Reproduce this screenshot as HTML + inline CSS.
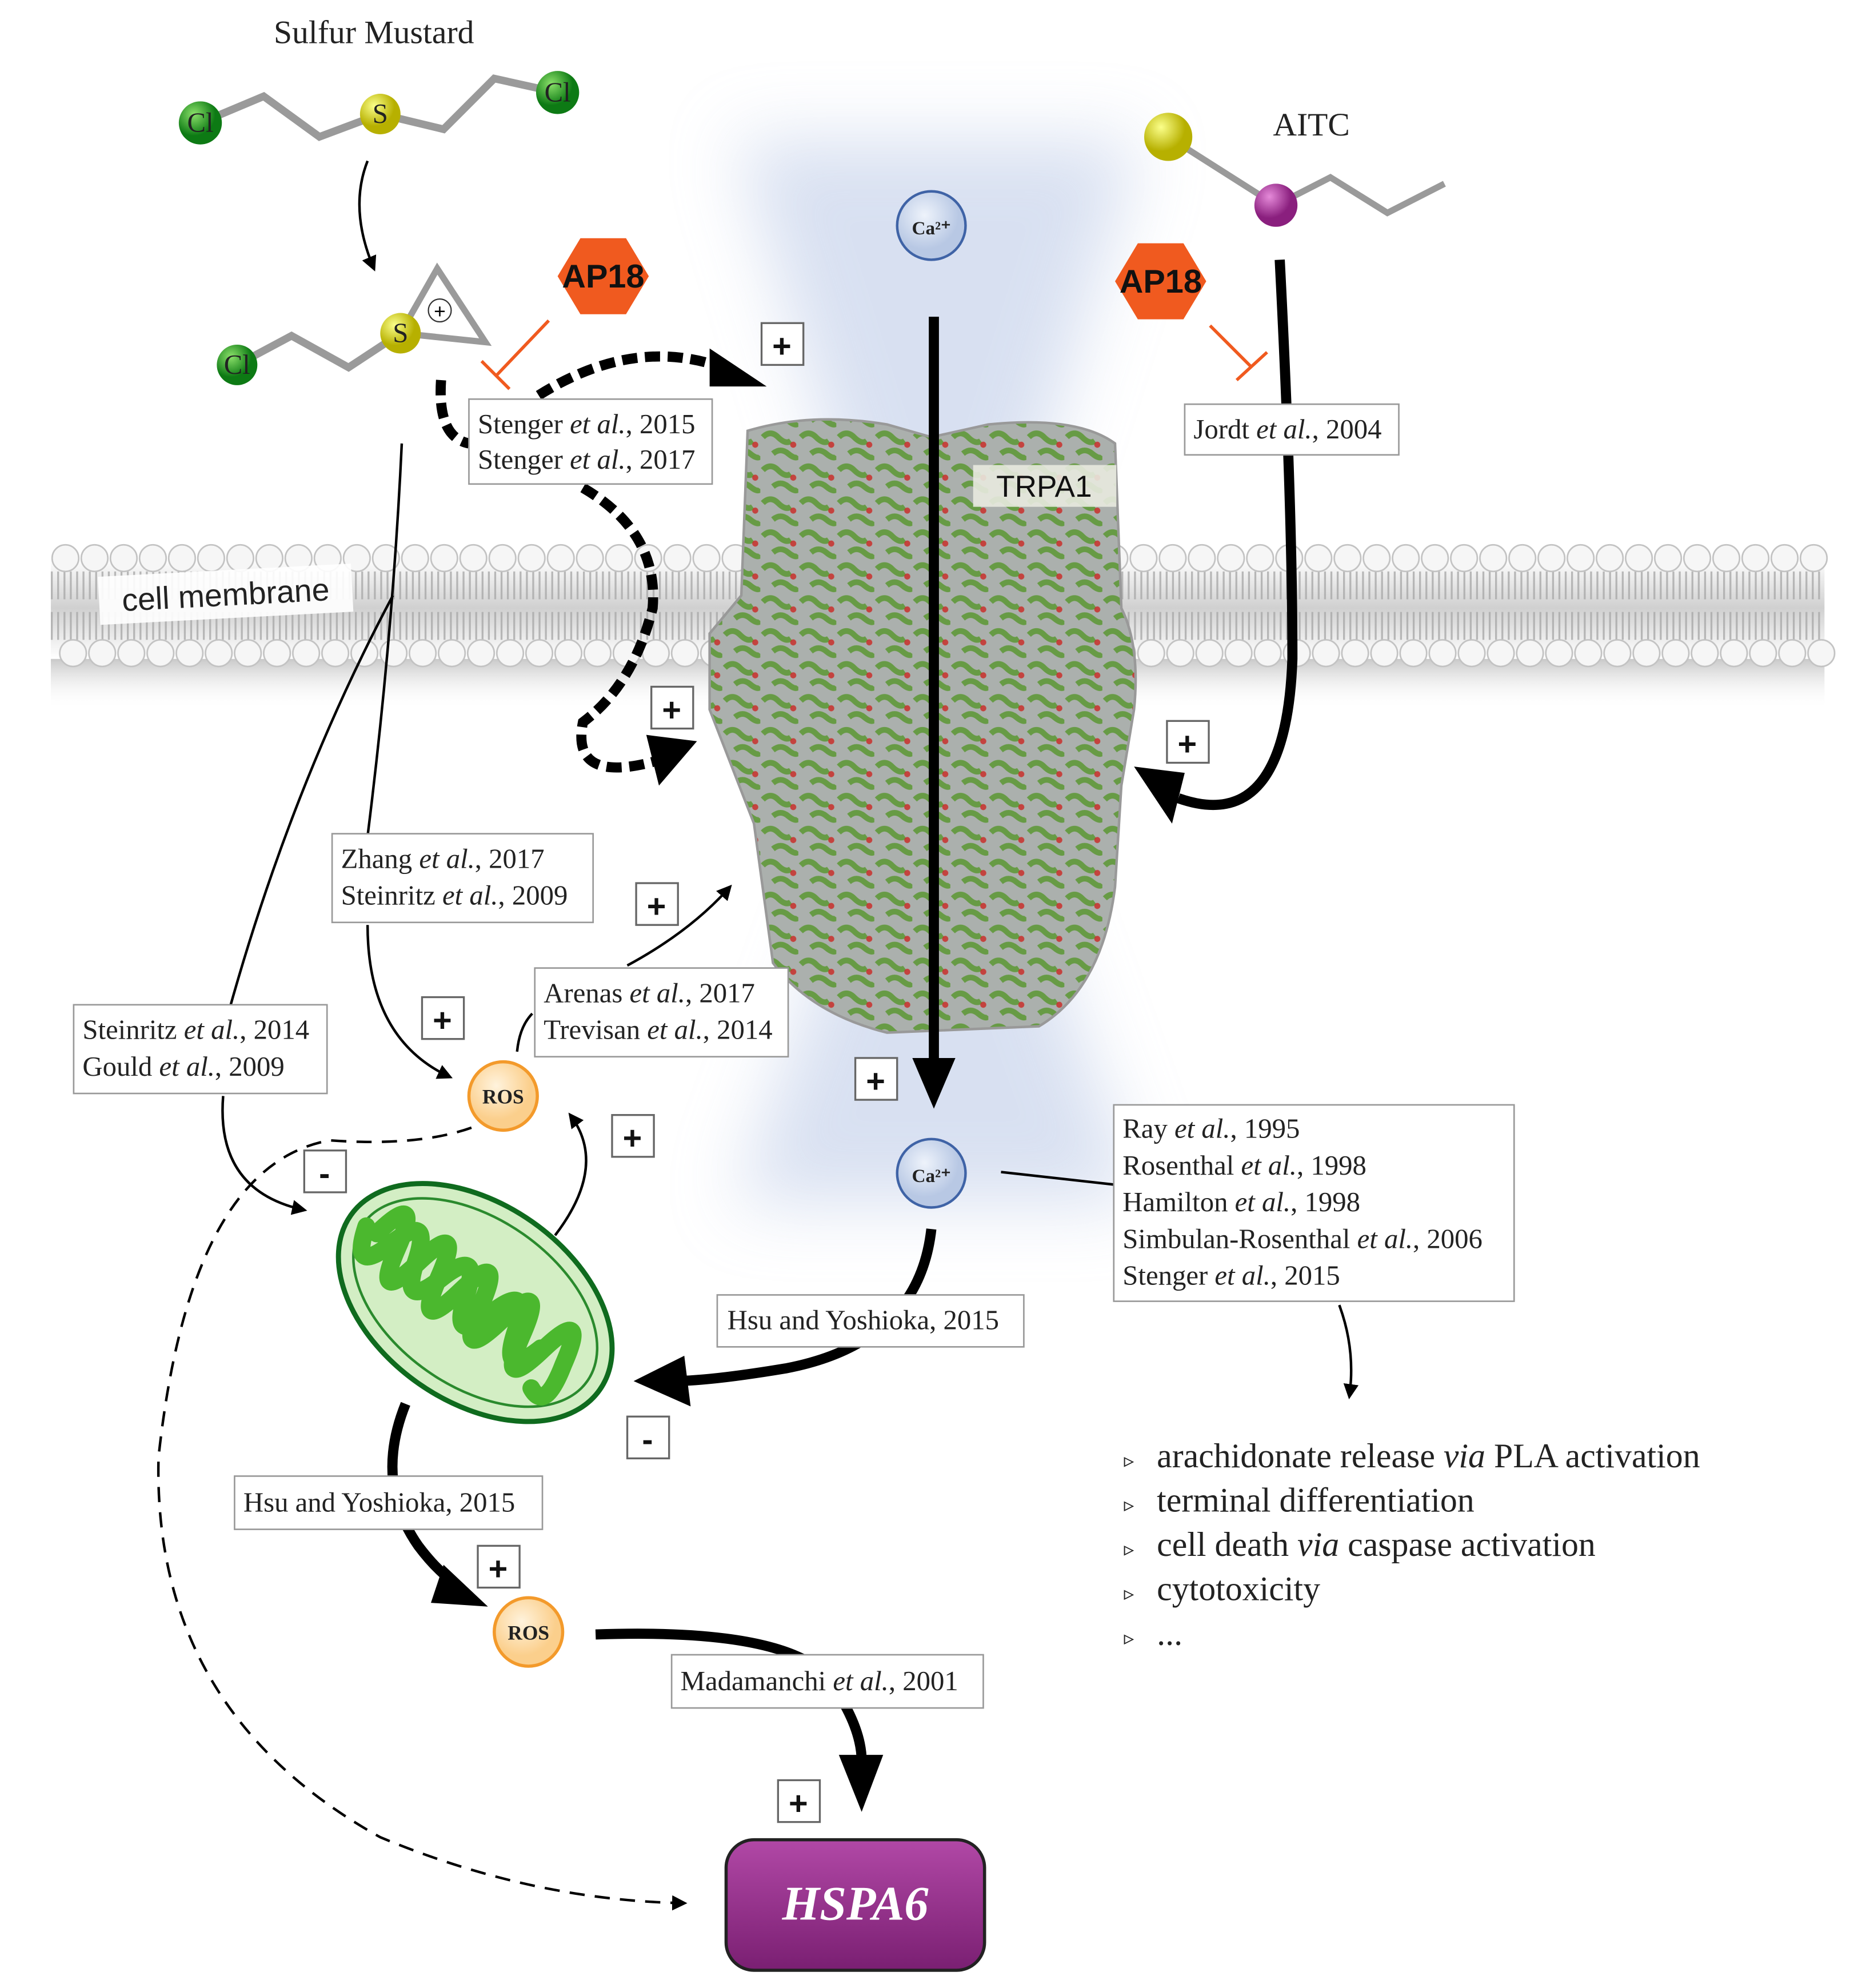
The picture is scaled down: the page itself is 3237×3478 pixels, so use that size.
<!DOCTYPE html>
<html><head><meta charset="utf-8"><style>
html,body{margin:0;padding:0;background:#fff}
svg{display:block}
.c{font-family:"Liberation Serif",serif;font-size:22px;fill:#222}
.b{fill:#fff;stroke:#999;stroke-width:1.2}
.pb{fill:#fff;stroke:#666;stroke-width:1.5}
.pt{font-family:"Liberation Sans",sans-serif;font-size:26px;font-weight:bold;fill:#111;text-anchor:middle}
.l{font-family:"Liberation Serif",serif;font-size:27px;fill:#222}
</style></head><body>
<svg width="3237" height="3478" viewBox="0 0 1460 1569" xmlns="http://www.w3.org/2000/svg">
<defs>
<filter id="blur" x="-50%" y="-50%" width="200%" height="200%"><feGaussianBlur stdDeviation="28"/></filter>
<radialGradient id="ca" cx="40%" cy="35%"><stop offset="0" stop-color="#eef3fb"/><stop offset="1" stop-color="#b8c8e4"/></radialGradient>
<radialGradient id="ros" cx="40%" cy="35%"><stop offset="0" stop-color="#fff3dd"/><stop offset="1" stop-color="#fbcf8c"/></radialGradient>
<radialGradient id="gr" cx="35%" cy="30%"><stop offset="0" stop-color="#8be06a"/><stop offset="1" stop-color="#0d7a14"/></radialGradient>
<radialGradient id="ye" cx="35%" cy="30%"><stop offset="0" stop-color="#fbff8a"/><stop offset="1" stop-color="#b7b000"/></radialGradient>
<radialGradient id="pu" cx="35%" cy="30%"><stop offset="0" stop-color="#e58ad9"/><stop offset="1" stop-color="#8a1f7e"/></radialGradient>
<linearGradient id="hs" x1="0" y1="0" x2="0" y2="1"><stop offset="0" stop-color="#b148a6"/><stop offset="1" stop-color="#7a1f72"/></linearGradient>
<linearGradient id="mem" x1="0" y1="0" x2="0" y2="1"><stop offset="0" stop-color="#fff"/><stop offset=".5" stop-color="#d0d0d0"/><stop offset="1" stop-color="#fff"/></linearGradient>
<linearGradient id="shad" x1="0" y1="0" x2="0" y2="1"><stop offset="0" stop-color="#bbb" stop-opacity=".8"/><stop offset="1" stop-color="#fff" stop-opacity="0"/></linearGradient>
<pattern id="prot" width="30" height="26" patternUnits="userSpaceOnUse">
<rect width="30" height="26" fill="#abb0ad"/>
<path d="M2 7 q6 -6 12 0 t10 3" stroke="#679b45" stroke-width="4.5" fill="none"/>
<path d="M10 20 q6 -5 12 0 t8 2" stroke="#679b45" stroke-width="4.5" fill="none"/>
<circle cx="26" cy="13" r="2.4" fill="#c9302c" opacity=".85"/>
</pattern>
<pattern id="hd1" x="40" y="429" width="23" height="23" patternUnits="userSpaceOnUse"><circle cx="11.5" cy="11.5" r="10.5" fill="#f6f6f6" stroke="#c2c2c2" stroke-width="1.2"/></pattern>
<pattern id="hd2" x="46" y="504" width="23" height="23" patternUnits="userSpaceOnUse"><circle cx="11.5" cy="11.5" r="10.5" fill="#f6f6f6" stroke="#c2c2c2" stroke-width="1.2"/></pattern>
<marker id="ah" viewBox="0 0 10 10" refX="8" refY="5" markerWidth="6" markerHeight="6" orient="auto"><path d="M0 0L10 5L0 10z" fill="#000"/></marker>
</defs>

<!-- glow cone -->
<path d="M580 110 L900 110 L760 560 L900 950 L580 950 L720 560 Z" fill="#b9c8e6" opacity=".55" filter="url(#blur)"/>

<!-- membrane -->
<rect x="40" y="520" width="1400" height="40" fill="url(#shad)"/>
<rect x="40" y="440" width="1400" height="80" fill="url(#mem)"/>
<path d="M40 462 H1440 M40 494 H1440" stroke="#a9a9a9" stroke-width="22" stroke-dasharray="1.5 3.5" fill="none" opacity=".8"/>
<rect x="40" y="429" width="1403" height="23" fill="url(#hd1)"/>
<rect x="46" y="504" width="1403" height="23" fill="url(#hd2)"/>

<!-- protein -->
<path d="M590 340 Q640 325 700 335 L735 345 L780 335 Q850 328 880 350 L885 480 Q900 510 895 560 L885 620 L880 700 Q870 780 820 810 L700 815 Q640 800 610 760 L595 650 L560 560 L560 500 L585 470 Z" fill="url(#prot)" stroke="#999" stroke-width="2"/>
<rect x="768" y="367" width="113" height="33" fill="#e8eadf" opacity=".9"/>
<text x="824" y="392" font-family="Liberation Sans,sans-serif" font-size="24" text-anchor="middle" fill="#111">TRPA1</text>

<!-- cell membrane label -->
<g transform="rotate(-3 178 470)"><rect x="78" y="450" width="200" height="38" fill="#fff" opacity=".9"/><text x="178" y="478" text-anchor="middle" font-family="Liberation Sans,sans-serif" font-size="25" fill="#222">cell membrane</text></g>

<!-- sulfur mustard -->
<text x="295" y="34" text-anchor="middle" font-family="Liberation Serif,serif" font-size="26" fill="#222">Sulfur Mustard</text>
<path d="M158 97 L208 76 L252 108 L300 90 L350 102 L390 62 L440 73" stroke="#9a9a9a" stroke-width="6" fill="none"/>
<circle cx="158" cy="97" r="17" fill="url(#gr)"/><text x="158" y="104" text-anchor="middle" class="c" font-size="18">Cl</text>
<circle cx="300" cy="90" r="16" fill="url(#ye)"/><text x="300" y="97" text-anchor="middle" class="c" font-size="18">S</text>
<circle cx="440" cy="73" r="17" fill="url(#gr)"/><text x="440" y="80" text-anchor="middle" class="c" font-size="18">Cl</text>
<path d="M290 127 Q275 165 295 212" stroke="#000" stroke-width="2" fill="none" marker-end="url(#ah)"/>
<path d="M187 288 L230 265 L275 290 L316 263" stroke="#9a9a9a" stroke-width="6" fill="none"/>
<path d="M316 263 L345 212 L383 270 Z" stroke="#9a9a9a" stroke-width="5" fill="none"/>
<circle cx="187" cy="288" r="16" fill="url(#gr)"/><text x="187" y="295" text-anchor="middle" class="c" font-size="18">Cl</text>
<circle cx="316" cy="263" r="16" fill="url(#ye)"/><text x="316" y="270" text-anchor="middle" class="c" font-size="18">S</text>
<circle cx="347" cy="245" r="9" fill="#fff" stroke="#333"/><text x="347" y="251" text-anchor="middle" font-size="16" fill="#000" font-family="Liberation Sans,sans-serif">+</text>

<!-- AITC -->
<text x="1035" y="107" text-anchor="middle" font-family="Liberation Serif,serif" font-size="26" fill="#222">AITC</text>
<path d="M922 108 L1007 162 L1050 140 L1095 168 L1140 145" stroke="#9a9a9a" stroke-width="5" fill="none"/>
<circle cx="922" cy="108" r="19" fill="url(#ye)"/>
<circle cx="1007" cy="162" r="17" fill="url(#pu)"/>

<!-- AP18 -->
<g><polygon points="458,188 494,188 512,218 494,248 458,248 440,218" fill="#f05a1f"/><text x="476" y="227" class="pt">AP18</text></g>
<g><polygon points="898,192 934,192 952,222 934,252 898,252 880,222" fill="#f05a1f"/><text x="916" y="231" class="pt">AP18</text></g>
<path d="M433 253 L392 296 M380 285 L402 307" stroke="#f05a1f" stroke-width="2.5"/>
<path d="M955 257 L988 290 M976 300 L1000 278" stroke="#f05a1f" stroke-width="2.5"/>

<!-- Ca -->
<circle cx="735" cy="178" r="27" fill="url(#ca)" stroke="#3f63a6" stroke-width="2"/><text x="735" y="185" text-anchor="middle" font-family="Liberation Serif,serif" font-size="15" font-weight="bold" fill="#222">Ca²⁺</text>
<circle cx="735" cy="926" r="27" fill="url(#ca)" stroke="#3f63a6" stroke-width="2"/><text x="735" y="933" text-anchor="middle" font-family="Liberation Serif,serif" font-size="15" font-weight="bold" fill="#222">Ca²⁺</text>

<!-- main vertical arrow -->
<path d="M737 250 L737 840" stroke="#000" stroke-width="8"/>
<path d="M720 835 L737 875 L754 835 Z" fill="#000"/>

<!-- AITC arrow -->
<path d="M1010 205 Q1020 400 1020 520 Q1015 660 930 630" stroke="#000" stroke-width="8" fill="none"/>
<path d="M935 610 L895 605 L925 650 Z" fill="#000"/>

<!-- dashed thick -->
<path d="M348 300 Q345 345 370 350 M425 312 Q500 265 570 290" stroke="#000" stroke-width="8" stroke-dasharray="12 6" fill="none"/>
<path d="M560 275 L605 305 L560 305 Z" fill="#000"/>
<path d="M460 385 Q520 420 515 480 Q500 540 460 570 Q450 620 520 600" stroke="#000" stroke-width="8" stroke-dasharray="12 6" fill="none"/>
<path d="M510 580 L550 585 L520 620 Z" fill="#000"/>

<!-- thin lines -->
<path d="M317 350 Q310 500 290 660" stroke="#000" stroke-width="2" fill="none"/>
<path d="M290 730 Q290 820 355 850" stroke="#000" stroke-width="2" fill="none" marker-end="url(#ah)"/>
<path d="M310 470 Q230 620 180 800" stroke="#000" stroke-width="2" fill="none"/>
<path d="M176 865 Q170 940 240 955" stroke="#000" stroke-width="2" fill="none" marker-end="url(#ah)"/>
<path d="M408 830 Q410 810 420 800 M495 762 Q545 735 576 700" stroke="#000" stroke-width="2" fill="none" marker-end="url(#ah)"/>
<path d="M438 975 Q480 920 450 880" stroke="#000" stroke-width="2" fill="none" marker-end="url(#ah)"/>
<path d="M372 890 Q330 905 260 900 Q150 920 125 1150 Q120 1350 300 1450 Q420 1500 540 1502" stroke="#000" stroke-width="2" stroke-dasharray="12 8" fill="none" marker-end="url(#ah)"/>
<path d="M790 925 L880 935" stroke="#000" stroke-width="2"/>
<path d="M1057 1030 Q1070 1065 1065 1102" stroke="#000" stroke-width="2" fill="none" marker-end="url(#ah)"/>

<!-- thick curves -->
<path d="M735 970 Q725 1060 620 1080 Q560 1090 530 1090" stroke="#000" stroke-width="8" fill="none"/>
<path d="M540 1070 L500 1090 L545 1110 Z" fill="#000"/>
<path d="M320 1108 Q295 1170 330 1220 Q345 1240 360 1250" stroke="#000" stroke-width="8" fill="none"/>
<path d="M350 1235 L385 1268 L340 1265 Z" fill="#000"/>
<path d="M470 1290 Q610 1285 650 1320 Q680 1360 680 1390" stroke="#000" stroke-width="8" fill="none"/>
<path d="M662 1385 L680 1430 L697 1385 Z" fill="#000"/>

<!-- mitochondrion -->
<g transform="rotate(35 375 1028)">
<ellipse cx="375" cy="1028" rx="120" ry="78" fill="#d3eec4" stroke="#0f6b1e" stroke-width="4"/>
<ellipse cx="375" cy="1028" rx="108" ry="66" fill="none" stroke="#2a8a2d" stroke-width="2"/>
<path d="M280 1028 q10 -50 20 0 t20 0 t20 0 t20 0 t20 0 t20 0 t20 0 t20 0 t20 0 q10 40 -10 30 M270 1028 q12 40 24 0 t24 0 t24 0 t24 0 t24 0 t24 0 t24 0" stroke="#4bb82e" stroke-width="14" fill="none" stroke-linecap="round"/>
</g>

<!-- ROS -->
<circle cx="397" cy="865" r="27" fill="url(#ros)" stroke="#f39a2b" stroke-width="2.5"/><text x="397" y="871" text-anchor="middle" font-family="Liberation Serif,serif" font-size="16" font-weight="bold" fill="#222">ROS</text>
<circle cx="417" cy="1288" r="27" fill="url(#ros)" stroke="#f39a2b" stroke-width="2.5"/><text x="417" y="1294" text-anchor="middle" font-family="Liberation Serif,serif" font-size="16" font-weight="bold" fill="#222">ROS</text>

<!-- HSPA6 -->
<rect x="573" y="1452" width="204" height="103" rx="22" fill="url(#hs)" stroke="#222" stroke-width="2.5"/>
<text x="675" y="1515" text-anchor="middle" font-family="Liberation Serif,serif" font-size="38" font-weight="bold" font-style="italic" fill="#fff">HSPA6</text>

<!-- citation boxes -->
<rect x="370" y="315" width="192" height="67" class="b"/>
<text x="377" y="342" class="c">Stenger <tspan font-style="italic">et al.</tspan>, 2015</text>
<text x="377" y="370" class="c">Stenger <tspan font-style="italic">et al.</tspan>, 2017</text>
<rect x="935" y="319" width="169" height="40" class="b"/>
<text x="942" y="346" class="c">Jordt <tspan font-style="italic">et al.</tspan>, 2004</text>
<rect x="262" y="658" width="206" height="70" class="b"/>
<text x="269" y="685" class="c">Zhang <tspan font-style="italic">et al.</tspan>, 2017</text>
<text x="269" y="714" class="c">Steinritz <tspan font-style="italic">et al.</tspan>, 2009</text>
<rect x="422" y="764" width="200" height="70" class="b"/>
<text x="429" y="791" class="c">Arenas <tspan font-style="italic">et al.</tspan>, 2017</text>
<text x="429" y="820" class="c">Trevisan <tspan font-style="italic">et al.</tspan>, 2014</text>
<rect x="58" y="793" width="200" height="70" class="b"/>
<text x="65" y="820" class="c">Steinritz <tspan font-style="italic">et al.</tspan>, 2014</text>
<text x="65" y="849" class="c">Gould <tspan font-style="italic">et al.</tspan>, 2009</text>
<rect x="879" y="872" width="316" height="155" class="b"/>
<text x="886" y="898" class="c">Ray <tspan font-style="italic">et al.</tspan>, 1995</text>
<text x="886" y="927" class="c">Rosenthal <tspan font-style="italic">et al.</tspan>, 1998</text>
<text x="886" y="956" class="c">Hamilton <tspan font-style="italic">et al.</tspan>, 1998</text>
<text x="886" y="985" class="c">Simbulan-Rosenthal <tspan font-style="italic">et al.</tspan>, 2006</text>
<text x="886" y="1014" class="c">Stenger <tspan font-style="italic">et al.</tspan>, 2015</text>
<rect x="566" y="1022" width="242" height="41" class="b"/>
<text x="574" y="1049" class="c">Hsu and Yoshioka, 2015</text>
<rect x="185" y="1165" width="243" height="42" class="b"/>
<text x="192" y="1193" class="c">Hsu and Yoshioka, 2015</text>
<rect x="530" y="1306" width="246" height="42" class="b"/>
<text x="537" y="1334" class="c">Madamanchi <tspan font-style="italic">et al.</tspan>, 2001</text>

<!-- plus/minus boxes -->
<g>
<rect x="601" y="255" width="33" height="33" class="pb"/><text x="617" y="282" class="pt">+</text>
<rect x="514" y="542" width="33" height="33" class="pb"/><text x="530" y="569" class="pt">+</text>
<rect x="921" y="569" width="33" height="33" class="pb"/><text x="937" y="596" class="pt">+</text>
<rect x="502" y="697" width="33" height="33" class="pb"/><text x="518" y="724" class="pt">+</text>
<rect x="333" y="787" width="33" height="33" class="pb"/><text x="349" y="814" class="pt">+</text>
<rect x="675" y="835" width="33" height="33" class="pb"/><text x="691" y="862" class="pt">+</text>
<rect x="483" y="880" width="33" height="33" class="pb"/><text x="499" y="907" class="pt">+</text>
<rect x="240" y="908" width="33" height="33" class="pb"/><text x="256" y="935" class="pt">-</text>
<rect x="495" y="1118" width="33" height="33" class="pb"/><text x="511" y="1145" class="pt">-</text>
<rect x="377" y="1220" width="33" height="33" class="pb"/><text x="393" y="1247" class="pt">+</text>
<rect x="614" y="1405" width="33" height="33" class="pb"/><text x="630" y="1432" class="pt">+</text>
</g>

<!-- list -->
<g class="l">
<text x="887" y="1158" font-size="16">▹</text><text x="913" y="1158">arachidonate release <tspan font-style="italic">via</tspan> PLA activation</text>
<text x="887" y="1193" font-size="16">▹</text><text x="913" y="1193">terminal differentiation</text>
<text x="887" y="1228" font-size="16">▹</text><text x="913" y="1228">cell death <tspan font-style="italic">via</tspan> caspase activation</text>
<text x="887" y="1263" font-size="16">▹</text><text x="913" y="1263">cytotoxicity</text>
<text x="887" y="1298" font-size="16">▹</text><text x="913" y="1298">...</text>
</g>
</svg>
</body></html>
